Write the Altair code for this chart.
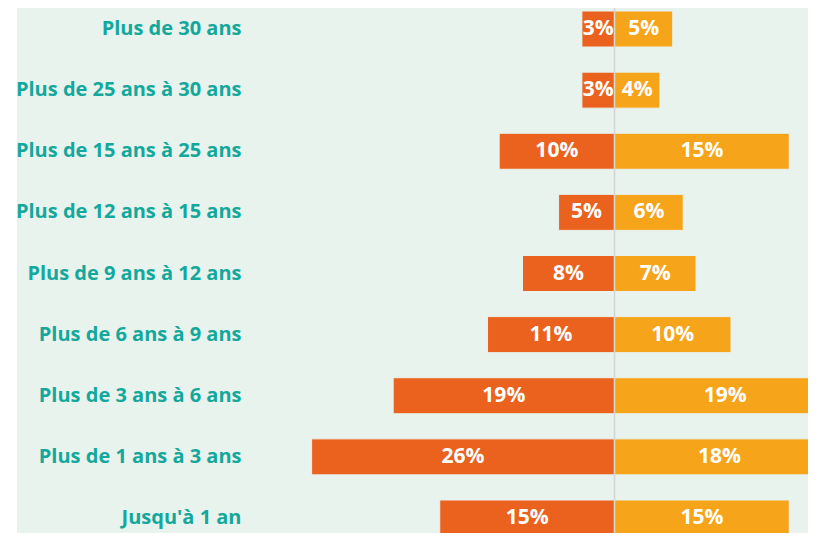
import altair as alt
import pandas as pd

categories = [
    "Plus de 30 ans",
    "Plus de 25 ans à 30 ans",
    "Plus de 15 ans à 25 ans",
    "Plus de 12 ans à 15 ans",
    "Plus de 9 ans à 12 ans",
    "Plus de 6 ans à 9 ans",
    "Plus de 3 ans à 6 ans",
    "Plus de 1 ans à 3 ans",
    "Jusqu'à 1 an",
]
left_values = [2.8, 2.8, 9.9, 4.8, 7.9, 10.9, 19.0, 26.0, 15.0]
right_values = [5.0, 3.9, 15.0, 5.9, 7.0, 10.0, 19.0, 18.0, 15.0]

rows = []
for c, l, r in zip(categories, left_values, right_values):
    rows.append({"cat": c, "side": "gauche", "v": -l, "label": f"{round(l):d}%"})
    rows.append({"cat": c, "side": "droite", "v": r, "label": f"{round(r):d}%"})
df = pd.DataFrame(rows)
df["mid"] = df["v"] / 2

BG = "#E8F3EE"
TEAL = "#13A89B"
FONT = "Open Sans"

x_scale = alt.Scale(domain=[-51.29, 16.61], nice=False, zero=False)
y_scale = alt.Scale(
    domain=categories, paddingInner=0.411, paddingOuter=0.0491, range=[0, 531.0]
)

base = alt.Chart(df)

bars = base.mark_bar(stroke=BG, strokeWidth=1, clip=True).encode(
    x=alt.X("v:Q", scale=x_scale, axis=None),
    x2=alt.datum(0),
    y=alt.Y(
        "cat:N",
        scale=y_scale,
        sort=categories,
        axis=alt.Axis(
            title=None,
            domain=False,
            ticks=False,
            labelPadding=0,
            offset=-224,
            labelFont=FONT,
            labelFontSize=20,
            labelFontWeight="bold",
            labelColor=TEAL,
            labelLimit=400,
        ),
    ),
    color=alt.Color(
        "side:N",
        scale=alt.Scale(domain=["gauche", "droite"], range=["#EB611E", "#F6A41A"]),
        legend=None,
    ),
)

texts = base.mark_text(
    color="white", font=FONT, fontSize=21, fontWeight="bold", baseline="middle"
).encode(
    x=alt.X("mid:Q", scale=x_scale),
    y=alt.Y("cat:N", scale=y_scale, sort=categories),
    text="label:N",
)

rule = alt.Chart(pd.DataFrame({"z": [0]})).mark_rule(
    color="#D3D7D5", strokeWidth=1.6
).encode(x=alt.X("z:Q", scale=x_scale))

chart = (
    alt.layer(bars, rule, texts)
    .properties(
        width=791,
        height=525,
        padding={"left": 9, "top": 0, "right": 0, "bottom": 0},
        autosize=alt.AutoSizeParams(type="none"),
        background="white",
    )
    .configure_view(fill=BG, strokeWidth=0)
)

chart.save("out.html", embed_options={"renderer": "svg", "actions": False})
